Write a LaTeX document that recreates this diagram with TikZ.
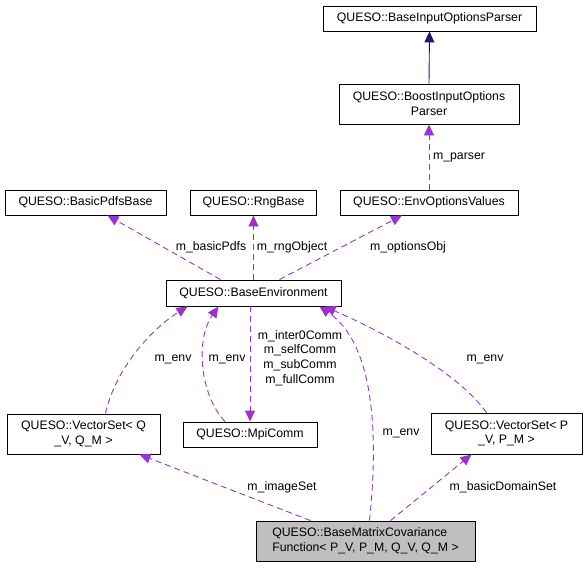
\documentclass[tikz,border=0pt]{standalone}
\usepackage{fontspec}
\setmainfont{Liberation Sans}
\usetikzlibrary{arrows.meta,calc}
\definecolor{depc}{HTML}{9A32CD}
\definecolor{inhc}{HTML}{191970}
\definecolor{boxgray}{HTML}{BFBFBF}
\begin{document}
\begin{tikzpicture}[x=1pt,y=-1pt,
  cls/.style={draw=black, line width=0.9pt, inner sep=0pt, font=\fontsize{12.3}{14.8}\selectfont, align=center, fill=white},
  usage/.style={draw=depc, dash pattern=on 6pt off 4pt, line width=0.9pt, -{Triangle[length=11pt,width=10pt,fill=depc]}},
  inherit/.style={draw=inhc, line width=0.9pt, -{Triangle[length=11pt,width=10pt,fill=inhc]}},
  lbl/.style={font=\fontsize{12.3}{14.8}\selectfont, inner sep=0pt, align=center}
]
\useasboundingbox (0,0) rectangle (587,568);

% class nodes
\node[cls, minimum width=213pt, minimum height=25pt] (bip) at (429.5,18.5) {QUESO::BaseInputOptionsParser};
\node[cls, minimum width=180pt, minimum height=40pt] (boost) at (429,104) {QUESO::BoostInputOptions\\Parser};
\node[cls, minimum width=161pt, minimum height=25pt] (pdfs) at (85.5,202.5) {QUESO::BasicPdfsBase};
\node[cls, minimum width=126pt, minimum height=25pt] (rng) at (253.5,202.5) {QUESO::RngBase};
\node[cls, minimum width=178pt, minimum height=25pt] (envopt) at (429,202.5) {QUESO::EnvOptionsValues};
\node[cls, minimum width=175pt, minimum height=26pt] (benv) at (253.5,293) {QUESO::BaseEnvironment};
\node[cls, minimum width=153pt, minimum height=40pt] (vsq) at (83.5,434) {QUESO::VectorSet< Q\\\_V, Q\_M >};
\node[cls, minimum width=134pt, minimum height=25pt] (mpi) at (250,434.5) {QUESO::MpiComm};
\node[cls, minimum width=151pt, minimum height=41pt] (vsp) at (506.5,433.5) {QUESO::VectorSet< P\\\_V, P\_M >};
\node[cls, fill=boxgray, align=left, minimum width=219pt, minimum height=40pt] (bmc) at (365.5,541) {QUESO::BaseMatrixCovariance\\Function< P\_V, P\_M, Q\_V, Q\_M >};

% inheritance
\draw[inherit] (boost.north) -- (bip.south);

% usage relations
\draw[usage] (envopt.north) -- (boost.south);
\draw[usage] ([xshift=-33pt]benv.north) -- ([xshift=22pt]pdfs.south);
\draw[usage] (benv.north) -- (rng.south);
\draw[usage] ([xshift=26pt]benv.north) -- ([xshift=-27pt]envopt.south);
\draw[usage] ([xshift=22pt]vsq.north) .. controls (115,370) and (150,330) .. ([xshift=-66pt]benv.south);
\draw[usage] ([xshift=-25pt]mpi.north) .. controls (200,395) and (195,340) .. ([xshift=-35pt]benv.south);
\draw[usage] (benv.south -| mpi.north) -- (mpi.north);
\draw[usage] ([xshift=4pt]bmc.north) .. controls (378,440) and (376,345) .. ([xshift=66pt]benv.south);
\draw[usage] ([xshift=-20pt]vsp.north) .. controls (460,375) and (390,335) .. ([xshift=71pt]benv.south);
\draw[usage] ([xshift=-55pt]bmc.north) -- ([xshift=56pt]vsq.south);
\draw[usage] ([xshift=25pt]bmc.north) -- ([xshift=-35pt]vsp.south);

% labels
\node[lbl] (l1) at (459,157) {m\_parser};
\node[lbl] (l2) at (211,247) {m\_basicPdfs};
\node[lbl] (l3) at (292,247) {m\_rngObject};
\node[lbl] (l4) at (408,247) {m\_optionsObj};
\node[lbl] (l5) at (173,359) {m\_env};
\node[lbl] (l6) at (227,359) {m\_env};
\node[lbl] (l7) at (300,358) {m\_inter0Comm\\m\_selfComm\\m\_subComm\\m\_fullComm};
\node[lbl] (l8) at (401,433) {m\_env};
\node[lbl] (l9) at (485,359) {m\_env};
\node[lbl] (l10) at (282,487) {m\_imageSet};
\node[lbl] (l11) at (503,487) {m\_basicDomainSet};
\end{tikzpicture}
\end{document}
